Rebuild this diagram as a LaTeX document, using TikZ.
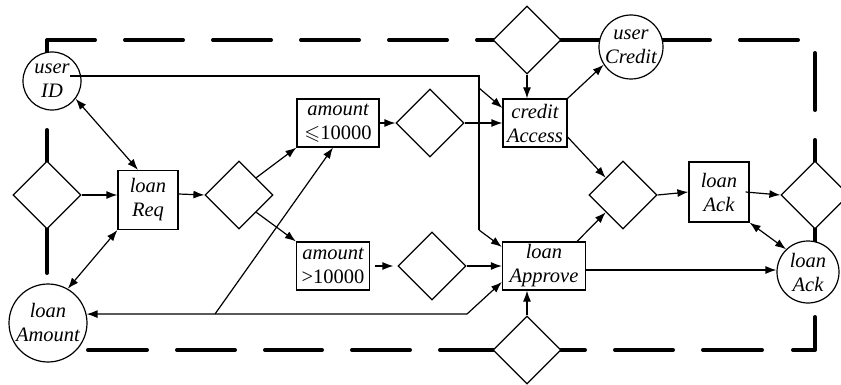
\documentclass[tikz,border=0pt]{standalone}
\usepackage{fontspec}
\usepackage{amssymb}
\setmainfont{Liberation Serif}
\usetikzlibrary{shapes.geometric,arrows.meta,calc}
\begin{document}
\begin{tikzpicture}[x=1pt,y=-1pt,
  ln/.style={line width=1.2pt},
  txt/.style={font=\fontsize{20.5}{24}\selectfont\itshape, align=center},
  bx/.style={draw, ln, fill=white, inner sep=0pt, txt},
  circ/.style={circle, draw, ln, fill=white, inner sep=0pt, txt},
  dia/.style={diamond, draw, ln, fill=white, minimum width=68pt, minimum height=68pt, inner sep=0pt},
  border/.style={line width=4pt, line cap=round, line join=round},
  arr/.style={ln, -{Latex[length=11pt,width=8pt]}},
  darr/.style={ln, {Latex[length=11pt,width=8pt]}-{Latex[length=11pt,width=8pt]}}]
\fill[white] (0,0) rectangle (841,385);
\useasboundingbox (0,0) rectangle (841,385);
% dashed boundary
\draw[border] (47,52) -- (47,40) -- (95,40);
\foreach \a/\b in {125/183,213/271,301/359,389/447,477/493,561/600,663/710,740/798}
  \draw[border] (\a,40) -- (\b,40);
\draw[border] (815,53) -- (815,110);
\draw[border] (815,140) -- (815,163);
\draw[border] (815,228) -- (815,243);
\draw[border] (815,317) -- (815,350) -- (793,350);
\foreach \a/\b in {88/147,177/235,265/322,352/410,440/493,561/585,615/673,703/762}
  \draw[border] (\a,350) -- (\b,350);
\draw[border] (47,130) -- (47,163);
\draw[border] (47,227) -- (47,273);
% nodes
\node[circ, minimum size=58pt] (userID) at (52,81) {user\\ID};
\node[circ, minimum size=78pt] (loanAmount) at (48,323) {loan\\Amount};
\node[circ, minimum size=64pt] (userCredit) at (631,47) {user\\Credit};
\node[circ, minimum size=62pt] (ackC) at (808,272) {loan\\Ack};
\node[dia] (dL) at (47,195) {};
\node[dia] (d2) at (239,195) {};
\node[dia] (d3) at (430,123) {};
\node[dia] (d4) at (432,266) {};
\node[dia] (d5) at (623,195) {};
\node[dia] (dR) at (815,195) {};
\node[dia] (dTop) at (527,40) {};
\node[dia] (dBot) at (527,350) {};
\node[bx, minimum width=60pt, minimum height=59pt] (loanReq) at (148,200) {loan\\Req};
\node[bx, minimum width=82pt, minimum height=48pt] (amountLE) at (338,123) {amount\\{\upshape$\leqslant$10000}};
\node[bx, minimum width=73pt, minimum height=48pt] (amountGT) at (333,266) {amount\\{\upshape>10000}};
\node[bx, minimum width=64pt, minimum height=48pt] (credit) at (535,123) {credit\\Access};
\node[bx, minimum width=83pt, minimum height=48pt] (approve) at (544,266) {loan\\Approve};
\node[bx, minimum width=60pt, minimum height=60pt] (loanAck) at (719,192) {loan\\Ack};
% helper coordinates
\coordinate (T) at (479,76);
\coordinate (T2) at (479,88);
\coordinate (B) at (479,230);
\coordinate (J) at (215,314);
\coordinate (K) at (467,314);
\coordinate (S) at (70,76);
% connectors
\draw[darr] (userID.-37) -- ([xshift=-10pt]loanReq.north);
\draw[darr] (loanAmount.60) -- (loanReq.south west);
\draw[arr] (dL.east) -- (dL.east -| loanReq.west);
\draw[arr] ([yshift=6pt]loanReq.east) -- (d2.west);
\draw[arr] (d2.north east) -- (amountLE.south west);
\draw[arr] (d2.south east) -- (amountGT.north west);
\draw[arr] (amountLE.east) -- (d3.west);
\draw[arr] (d3.east) -- (credit.west);
\draw[arr, shorten <=5pt, shorten >=4pt] (amountGT.east) -- (d4.west);
\draw[arr] (d4.east) -- (approve.west);
\draw[ln] (S) -- (T) -- (B);
\draw[arr] (T2) -- ([yshift=15pt]credit.west);
\draw[arr] (B) -- ([yshift=19pt]approve.west);
\draw[darr] (loanAmount.13) -- (K) -- ([yshift=-16pt]approve.west);
\draw[arr] (J) -- ([xshift=-5pt]amountLE.south);
\draw[arr] (dTop.south) -- (dTop.south |- credit.north);
\draw[arr] (dBot.north) -- (dBot.north |- approve.south);
\draw[arr] (credit.north east) -- (userCredit.213);
\draw[arr] ([yshift=-14pt]credit.east) -- (d5.north west);
\draw[arr] ([xshift=-9pt]approve.north east) -- (d5.south west);
\draw[arr] (d5.east) -- (loanAck.west);
\draw[arr] ([xshift=-4pt]loanAck.east) -- (dR.west);
\draw[darr] (loanAck.south east) -- (ackC.134);
\draw[arr] ([yshift=-4pt]approve.east) -- ([yshift=-4pt]approve.east -| ackC.west);
\end{tikzpicture}
\end{document}
